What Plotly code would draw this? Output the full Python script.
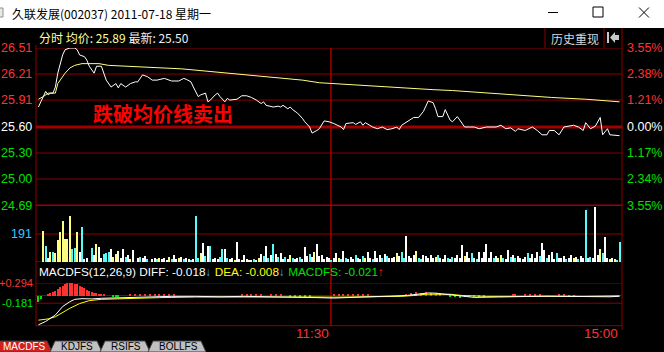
import plotly.graph_objects as go

# ---------------- data ----------------
price_min = [0,2,3,4,5,6,7,8,9,10,11,13,15,16,17,19,20,21,23,24,26,27,28,30,32,33,34,36,38,40,41,43,45,47,49,52,55,58,60,61,63,64,66,67,69,70,71,73,74,75,77,78,79,82,84,86,88,90,92,93,94,97,99,100,101,103,104,105,107,109,110,112,113,115,116,118,120,122,125,126,127,130,131,133,134,135,137,138,140,142,144,146,148,149,150,153,155,157,159,161,163,164,165,167,168,170,171,173,176,178,180,182,185,189,191,193,195,197,198,201,204,206,208,210,211,213,215,217,221,223,225,226,228,230,232,233,235,236,240]
price_val = [25.83,25.95,26.01,25.97,25.99,25.99,26.06,26.22,26.34,26.43,26.49,26.51,26.51,26.49,26.43,26.41,26.37,26.30,26.22,26.30,26.30,26.22,26.14,26.06,26.10,26.05,26.10,26.06,26.10,26.12,26.12,26.20,26.18,26.14,26.14,26.16,26.13,26.13,26.16,26.15,26.12,26.06,25.95,25.97,25.99,25.89,25.91,25.97,25.99,25.95,25.89,25.93,25.91,25.92,25.96,25.96,25.94,25.91,25.87,25.89,25.85,25.83,25.84,25.83,25.85,25.81,25.83,25.80,25.76,25.70,25.66,25.60,25.53,25.56,25.58,25.67,25.66,25.64,25.60,25.57,25.64,25.65,25.63,25.66,25.62,25.65,25.61,25.60,25.58,25.60,25.57,25.58,25.60,25.57,25.62,25.68,25.71,25.71,25.78,25.90,25.88,25.81,25.72,25.72,25.80,25.68,25.66,25.72,25.60,25.60,25.60,25.58,25.60,25.60,25.62,25.58,25.59,25.55,25.58,25.56,25.60,25.56,25.51,25.51,25.56,25.56,25.51,25.60,25.62,25.60,25.56,25.65,25.58,25.61,25.71,25.51,25.58,25.51,25.50]

avg_min = [0,2,4,7,8,11,13,15,18,25,29,38,52,59,63,71,82,96,109,116,122,135,149,163,171,185,198,212,226,240]
avg_val = [25.92,25.95,25.99,25.99,26.10,26.22,26.28,26.31,26.33,26.33,26.31,26.30,26.28,26.27,26.26,26.24,26.21,26.18,26.14,26.11,26.10,26.07,26.05,26.03,26.02,25.99,25.97,25.94,25.92,25.89]

vol_min = [2,3,4,5,6,7,8,9,10,11,12,13,14,15,16,17,18,19,20,22,23,24,25,26,27,28,29,30,31,32,33,34,35,36,37,38,39,41,42,43,44,45,47,48,49,50,51,52,53,54,55,56,57,58,59,60,61,62,63,64,65,66,67,68,69,70,71,72,73,74,75,76,77,78,79,80,81,82,83,84,85,86,87,88,89,90,91,92,93,94,95,96,97,98,99,100,101,102,103,104,105,106,107,108,109,110,111,112,113,114,115,116,117,118,119,120,121,122,123,124,125,126,127,128,129,130,131,132,133,134,135,136,137,138,139,140,141,142,143,144,145,146,147,148,149,150,151,152,153,154,155,156,157,158,159,160,161,162,163,164,165,166,167,168,169,170,171,172,173,174,175,176,177,178,179,180,181,182,183,184,185,186,187,188,189,190,191,192,193,194,195,196,197,198,199,200,201,202,203,204,205,206,207,208,209,210,211,212,213,214,215,216,217,218,219,220,221,222,223,224,225,226,227,228,229,230,231,232,233,234,235,236,237,238,239,240]
vol_val = [211,109,27,70,68,63,150,205,280,157,157,314,89,95,205,68,240,20,27,95,48,123,102,27,55,61,68,89,34,55,75,27,89,34,48,20,82,27,34,27,41,20,20,25,20,30,20,25,15,35,20,45,20,30,35,20,30,20,15,20,314,27,61,130,40,109,109,20,30,20,35,89,89,30,20,25,15,136,20,15,48,20,15,15,20,15,30,55,40,109,25,48,123,55,35,61,20,35,20,48,30,20,25,35,20,102,40,55,35,70,123,40,48,20,35,25,15,27,61,30,20,75,25,20,35,20,48,30,20,40,25,70,30,20,75,30,45,25,55,40,25,30,35,61,40,70,30,180,40,30,45,75,25,20,45,41,30,48,25,35,48,30,20,48,30,20,35,25,48,30,116,40,70,30,60,30,20,65,30,70,123,25,65,30,40,25,50,30,20,82,35,45,25,40,30,20,35,61,30,55,25,70,40,130,82,30,45,70,20,61,30,25,40,20,30,45,25,35,20,40,30,355,25,35,30,375,50,89,61,170,30,20,25,20,15,136]
vol_col = "ycwycyyyyyyyccywcwwcwywwcccwyywwwcwyw" + "wcwwcwwcywwwycwwywcwwcwccywcwcwwwccwcwwywwwwwwwcwywcwcwcwcwwcwycwwcwwwcwywwwwwwcwwycwcwwwcwwcywwcwwwcwcwwwywccwwwwyccwwwwwycwwwcwcwwwwywwcwcwwwwwwcwyycwwcwcwwwwcwwwwcwwcwwwcwwwcwwywcwwcwcwwwycwwywyccwwwwww"

hist_min = [0,1,4,5,6,7,8,9,10,11,12,13,14,15,16,17,18,19,20,21,22,23,24,25,26,27,31,32,33,38,40,42,44,46,48,50,52,54,56,84,86,88,90,92,96,98,100,104,106,108,110,112,122,124,126,128,130,132,134,136,152,154,156,158,160,162,164,166,170,172,174,176,178,180,182,184,196,197,201,203,205,207,215,217,219,221]
hist_val = [-0.15,-0.08,0.03,0.05,0.08,0.11,0.15,0.19,0.23,0.26,0.29,0.29,0.29,0.28,0.26,0.23,0.20,0.17,0.14,0.11,0.09,0.07,0.05,0.04,0.03,0.02,-0.02,-0.03,-0.02,0.03,0.04,0.03,0.04,0.03,0.04,0.03,0.04,0.03,0.02,0.03,0.04,0.03,0.04,0.03,0.03,0.04,0.03,-0.03,-0.04,-0.03,-0.03,-0.02,0.03,0.04,0.03,0.04,0.03,0.04,0.03,0.02,0.04,0.06,0.08,0.07,0.09,0.07,0.05,0.03,-0.03,-0.04,-0.05,-0.04,-0.03,-0.04,-0.03,-0.02,0.03,0.03,0.03,0.04,0.03,0.03,0.04,0.03,-0.03,-0.03]

diff_min = [0,3,7,10,13,15,18,22,26,35,45,55,65,75,85,95,105,115,122,126,135,145,152,156,161,164,168,172,176,180,190,200,210,218,225,232,236,240]
diff_val = [-0.69,-0.61,-0.46,-0.26,-0.145,-0.09,-0.075,-0.08,-0.066,-0.05,-0.03,-0.02,-0.02,-0.03,-0.02,-0.025,-0.035,-0.05,-0.06,-0.055,-0.03,-0.015,0.0,0.03,0.06,0.055,0.03,0.0,-0.03,-0.045,-0.035,-0.02,-0.015,-0.02,-0.03,-0.04,-0.03,-0.018]
dea_min = [0,4,7,10,13,17,21,26,35,50,65,80,100,115,122,135,150,155,160,170,175,185,210,225,240]
dea_val = [-0.58,-0.55,-0.50,-0.40,-0.30,-0.19,-0.12,-0.09,-0.07,-0.05,-0.035,-0.03,-0.028,-0.035,-0.04,-0.035,-0.02,0.0,0.03,0.03,0.0,-0.02,-0.025,-0.02,-0.008]

price_ticks = [26.51, 26.21, 25.91, 25.60, 25.30, 25.00, 24.69]
price_tick_text = ["26.51", "26.21", "25.91", "25.60", "25.30", "25.00", "24.69"]
pct_tick_text = ["3.55%", "2.38%", "1.21%", "0.00%", "1.17%", "2.34%", "3.55%"]
tick_colors = ["#ff3232", "#ff3232", "#ff3232", "#ffffff", "#00e000", "#00e000", "#00e000"]
vol_tick = 191
macd_ticks = [0.294, -0.181]
macd_tick_text = ["+0.294", "-0.181"]
time_ticks = [120.8, 240]
time_text = ["11:30", "15:00"]

# ---------------- layout helpers ----------------
W, H = 664, 352
L, R = 36, 622


def px(x):
    return x / W


def py(y):
    return 1 - y / H


GRID = "#8c0000"
GRID_THICK = "#a00000"
FONT = "Liberation Sans"
CJK = "Noto Sans CJK SC"

fig = go.Figure()

fig.add_trace(go.Scatter(x=avg_min, y=avg_val, mode="lines", line=dict(color="#ffff80", width=1),
                         xaxis="x", yaxis="y", hoverinfo="skip"))
fig.add_trace(go.Scatter(x=price_min, y=price_val, mode="lines", line=dict(color="#ffffff", width=1),
                         xaxis="x", yaxis="y", hoverinfo="skip"))
cmap = {"w": "#ffffff", "y": "#ffff80", "c": "#54fcfc"}
fig.add_trace(go.Bar(x=vol_min, y=vol_val, width=0.45,
                     marker=dict(color=[cmap[c] for c in vol_col[:len(vol_min)]], line=dict(width=0)),
                     xaxis="x2", yaxis="y2", hoverinfo="skip"))
fig.add_trace(go.Bar(x=hist_min, y=hist_val, width=0.45,
                     marker=dict(color=["#ff3232" if v > 0 else "#00e000" for v in hist_val], line=dict(width=0)),
                     xaxis="x3", yaxis="y3", hoverinfo="skip"))
fig.add_trace(go.Scatter(x=dea_min, y=dea_val, mode="lines", line=dict(color="#ffff00", width=1),
                         xaxis="x3", yaxis="y3", hoverinfo="skip"))
fig.add_trace(go.Scatter(x=diff_min, y=diff_val, mode="lines", line=dict(color="#ffffff", width=1),
                         xaxis="x3", yaxis="y3", hoverinfo="skip"))

shapes = []
annos = []


def hline(yref, yv, color=GRID, width=1, x0=L, x1=R):
    shapes.append(dict(type="line", xref="paper", yref=yref, x0=px(x0), x1=px(x1), y0=yv, y1=yv,
                       line=dict(color=color, width=width), layer="below"))


def pline(x0, y0, x1, y1, color=GRID, width=1):
    shapes.append(dict(type="line", xref="paper", yref="paper", x0=px(x0), x1=px(x1), y0=py(y0), y1=py(y1),
                       line=dict(color=color, width=width), layer="below"))


def text(x, y, s, color, size=12, family=FONT, xanchor="left", yref="paper", bold=False):
    annos.append(dict(x=px(x), y=(py(y) if yref == "paper" else y), xref="paper", yref=yref, text=s,
                      showarrow=False, xanchor=xanchor, yanchor="middle",
                      font=dict(color=color, size=size, family=family, weight=("bold" if bold else "normal"))))


# title bar
shapes.append(dict(type="rect", xref="paper", yref="paper", x0=0, x1=1, y0=py(28), y1=1,
                   fillcolor="#ffffff", line=dict(width=0), layer="below"))
shapes.append(dict(type="rect", xref="paper", yref="paper", x0=px(-2), x1=px(3), y0=py(17), y1=py(8),
                   fillcolor="#e8e8e8", line=dict(color="#909090", width=1), layer="below"))
text(10, 13, "久联发展(002037) 2011-07-18 星期一", "#000000", size=12, family=CJK)
pline(548, 12.5, 558, 12.5, color="#000000", width=1)
shapes.append(dict(type="rect", xref="paper", yref="paper", x0=px(593), x1=px(603), y0=py(17), y1=py(7),
                   line=dict(color="#000000", width=1), layer="below"))
pline(639, 7.5, 649, 17.5, color="#000000", width=1)
pline(639, 17.5, 649, 7.5, color="#000000", width=1)

# history box
pline(545, 28, 545, 48)
pline(604, 28, 604, 48)
pline(R, 28, R, 330)
text(575, 38.5, "历史重现", "#d8d8d8", size=12, family=CJK, xanchor="center")
shapes.append(dict(type="rect", xref="paper", yref="paper", x0=px(607), x1=px(609), y0=py(43), y1=py(32),
                   fillcolor="#c8c8c8", line=dict(width=0), layer="above"))
shapes.append(dict(type="path", xref="paper", yref="paper",
                   path=f"M {px(610)} {py(37.5)} L {px(615)} {py(32)} L {px(615)} {py(35)} L {px(619)} {py(35)} "
                        f"L {px(619)} {py(40)} L {px(615)} {py(40)} L {px(615)} {py(43)} Z",
                   fillcolor="#c8c8c8", line=dict(width=0), layer="above"))

# header text
text(37, 37.5, "<span style='color:#ffffa0'>分时 均价: 25.89</span> 最新: 25.50", "#f0f0f0", size=12, family=CJK)

# left border
pline(L, 45, L, 326)

# price grid
for v in price_ticks:
    thick = v in (25.60, 24.69)
    hline("y", v, color=GRID_THICK if thick else GRID, width=3 if thick else 1)
for v, t, pt, c in zip(price_ticks, price_tick_text, pct_tick_text, tick_colors):
    text(34, v, t, c, size=12.5, xanchor="right", yref="y")
    text(625, v, pt, c, size=12.5, xanchor="left", yref="y")

# volume grid
hline("y2", vol_tick)
hline("y2", 0, width=1.5)
text(34, vol_tick, str(vol_tick), "#30c8ff", size=12.5, xanchor="right", yref="y2")

# macd header
text(37, 272, "MACDFS(12,26,9) DIFF: -0.018<span style='color:#30a8ff'>↓</span> "
              "<span style='color:#ffff00'>DEA: -0.008</span><span style='color:#30a8ff'>↓</span> "
              "<span style='color:#00e000'>MACDFS: -0.021</span><span style='color:#ff2020'>↑</span>",
     "#ffffff", size=11.8)

# macd grid
hline("y3", 0.294)
hline("y3", 0.0)
hline("y3", -0.181)
pline(L, 325.7, R, 325.7)
for v, t, c in zip(macd_ticks, macd_tick_text, ["#ff3232", "#00e000"]):
    text(35, v, t, c, size=11, xanchor="right", yref="y3")

# 11:30 divider
shapes.append(dict(type="line", xref="x", yref="paper", x0=time_ticks[0], x1=time_ticks[0],
                   y0=py(48), y1=py(326), line=dict(color=GRID_THICK, width=1.5), layer="below"))
for tv, tt in zip(time_ticks, time_text):
    annos.append(dict(x=tv, y=py(333), xref="x3", yref="paper", text=tt, showarrow=False,
                      xanchor="right", yanchor="middle", font=dict(color="#ff3232", size=13.5, family=FONT)))

# signal text
text(163, 113, "跌破均价线卖出", "#ff0000", size=20, family=CJK, xanchor="center", bold=True)

# bottom tabs
tabs = [(-6, 52, "MACDFS", "#d02020", "#ffffff"), (50, 102, "KDJFS", "#c0c0c0", "#000000"),
        (100, 150, "RSIFS", "#c0c0c0", "#000000"), (148, 206, "BOLLFS", "#c0c0c0", "#000000")]
for x0, x1, t, bg, fg in tabs:
    shapes.append(dict(type="path", xref="paper", yref="paper",
                       path=f"M {px(x0)} {py(352)} L {px(x0 + 5)} {py(341)} L {px(x1 - 5)} {py(341)} L {px(x1)} {py(352)} Z",
                       fillcolor=bg, line=dict(color="#404040", width=1), layer="above"))
    text((x0 + x1) / 2 + 1, 346.5, t, fg, size=10, xanchor="center")

xa = dict(domain=[px(L), px(R)], range=[-1, 241], visible=False, fixedrange=True)
fig.update_layout(
    width=W, height=H, margin=dict(l=0, r=0, t=0, b=0),
    paper_bgcolor="#000000", plot_bgcolor="rgba(0,0,0,0)",
    showlegend=False, bargap=0,
    xaxis=dict(**xa, anchor="y"),
    xaxis2=dict(**xa, anchor="y2"),
    xaxis3=dict(**xa, anchor="y3"),
    yaxis=dict(domain=[py(206), py(48)], range=[24.69, 26.51], visible=False, fixedrange=True),
    yaxis2=dict(domain=[py(262), py(206)], range=[0, 382], visible=False, fixedrange=True),
    yaxis3=dict(domain=[py(325.7), py(283)], range=[-0.710, 0.294], visible=False, fixedrange=True),
    shapes=shapes, annotations=annos,
)
fig.write_html("out.html")
